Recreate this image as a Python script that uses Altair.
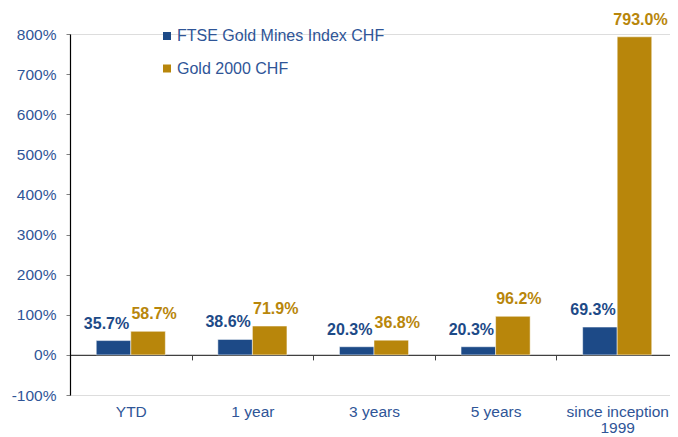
import altair as alt
import pandas as pd

categories = ["YTD", "1 year", "3 years", "5 years", "since inception 1999"]
series = ["FTSE Gold Mines Index CHF", "Gold 2000 CHF"]
ftse = [35.7, 38.6, 20.3, 20.3, 69.3]
gold = [58.7, 71.9, 36.8, 96.2, 793.0]
colors = ["#1D4A87", "#B8860B"]
text_blue = "#2F5597"

rows = []
for c, a, b in zip(categories, ftse, gold):
    rows.append({"cat": c, "series": series[0], "value": a, "label": f"{a:.1f}%"})
    rows.append({"cat": c, "series": series[1], "value": b, "label": f"{b:.1f}%"})
df = pd.DataFrame(rows)

FONT = "Liberation Sans"

x_enc = alt.X(
    "cat:N", sort=categories,
    scale=alt.Scale(paddingInner=0, paddingOuter=0, range=[0, 608]),
    axis=alt.Axis(
        title=None, labelAngle=0, offset=-40.1, tickBand="extent", tickSize=5,
        domainColor="#404040", tickColor="#404040", domainWidth=1.2,
        labelPadding=45, labelColor=text_blue, labelFontSize=15.5, labelFont=FONT,
        labelExpr="datum.label == 'since inception 1999' ? ['since inception', '1999'] : datum.label",
        labelLineHeight=16, labelLimit=0,
    ),
)
xo_enc = alt.XOffset("series:N", sort=series, scale=alt.Scale(paddingInner=0, paddingOuter=0.76))
y_enc = alt.Y(
    "value:Q",
    scale=alt.Scale(domain=[-100, 800], nice=False, zero=True),
    axis=alt.Axis(
        values=list(range(-100, 801, 100)), labelExpr="datum.value + '%'", title=None,
        grid=False, tickSize=4, tickColor="#808080", domainColor="#000000", domainWidth=1.2,
        labelPadding=10, labelColor=text_blue, labelFontSize=15.5, labelFont=FONT,
    ),
)

bars = alt.Chart(df).mark_bar(stroke="white", strokeWidth=0.5).encode(
    x=x_enc, xOffset=xo_enc, y=y_enc,
    color=alt.Color(
        "series:N", sort=series,
        scale=alt.Scale(domain=series, range=colors),
        legend=alt.Legend(
            orient="none", legendX=89, legendY=-6, title=None, symbolType="square",
            symbolSize=64, symbolStrokeWidth=0, labelFontSize=16, labelFont=FONT,
            labelColor=text_blue, labelOffset=2, rowPadding=16.5, padding=0, labelLimit=0,
        ),
    ),
)

t1 = alt.Chart(df).transform_filter(alt.datum.series == series[0]).mark_text(
    dy=-17, dx=-7, fontWeight="bold", fontSize=16, font=FONT, color=colors[0], baseline="middle"
).encode(x=x_enc, xOffset=xo_enc, y=y_enc, text="label:N")

t2 = alt.Chart(df).transform_filter(alt.datum.series == series[1]).mark_text(
    dy=-17, dx=6, fontWeight="bold", fontSize=16, font=FONT, color=colors[1], baseline="middle"
).encode(x=x_enc, xOffset=xo_enc, y=y_enc, text="label:N")

chart = alt.layer(bars, t1, t2).properties(
    width=600, height=361,
    autosize=alt.AutoSizeParams(type="none"),
    padding={"left": 62, "top": 26, "right": 0, "bottom": 50},
).configure_view(stroke=None).configure(font=FONT)

chart.save("out.html", embed_options={"renderer": "svg", "actions": False})
